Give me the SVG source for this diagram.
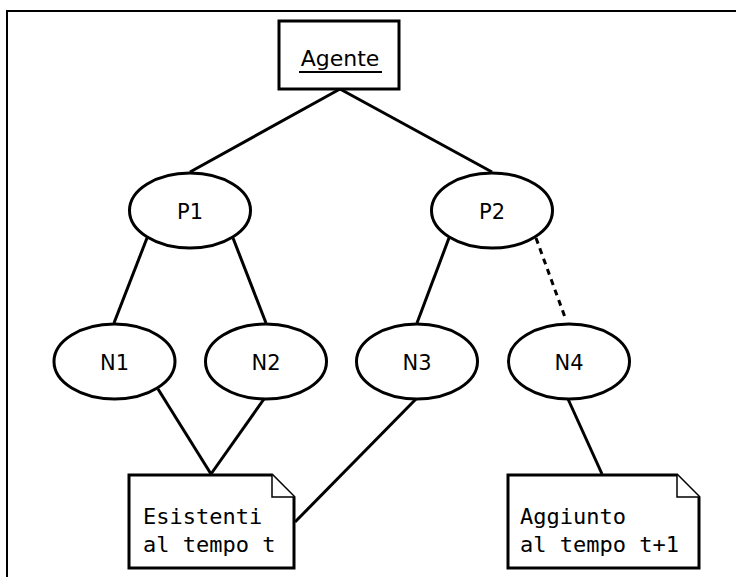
<svg xmlns="http://www.w3.org/2000/svg" width="736" height="577" viewBox="0 0 736 577">
  <style>
    .frame { fill: none; stroke: #000; stroke-width: 2; }
    .edge { fill: none; stroke: #000; stroke-width: 3; }
    .dashed { stroke-dasharray: 6 5; }
    .shape { fill: #fff; stroke: #000; stroke-width: 3; }
    .fold { fill: #fff; stroke: #000; stroke-width: 1.5; }
    .label { font-family: "DejaVu Sans", "Liberation Sans", sans-serif; font-size: 21px; fill: #000; text-anchor: middle; }
    .title { font-size: 22px; }
    .mono { font-family: "DejaVu Sans Mono", "Liberation Mono", monospace; font-size: 22px; fill: #000; }
  </style>
  <rect width="736" height="577" fill="#fff"/>
  <!-- diagram frame, open on the right and bottom -->
  <path class="frame" d="M7,577 V11 H736"/>

  <g id="connectors">
    <line class="edge" x1="340" y1="89" x2="190" y2="172"/>
    <line class="edge" x1="340" y1="89" x2="492" y2="172"/>
    <line class="edge" x1="147" y1="238" x2="114" y2="323"/>
    <line class="edge" x1="233" y1="238" x2="266" y2="323"/>
    <line class="edge" x1="449" y1="238" x2="417" y2="323"/>
    <line class="edge dashed" x1="536" y1="238" x2="566" y2="320"/>
    <line class="edge" x1="158" y1="389" x2="211" y2="474"/>
    <line class="edge" x1="264" y1="399" x2="211" y2="474"/>
    <line class="edge" x1="416" y1="399" x2="295" y2="522"/>
    <line class="edge" x1="568" y1="399" x2="602" y2="474"/>
  </g>

  <g id="agente">
    <rect class="shape" x="279" y="21" width="120" height="68"/>
    <text class="label title" x="340" y="65.5">Agente</text>
    <line x1="299" y1="72" x2="382" y2="72" stroke="#000" stroke-width="1.8"/>
  </g>

  <g id="p1">
    <ellipse class="shape" cx="190" cy="210.5" rx="60.5" ry="37.5"/>
    <text class="label" x="190" y="219">P1</text>
  </g>
  <g id="p2">
    <ellipse class="shape" cx="492" cy="210.5" rx="60.5" ry="37.5"/>
    <text class="label" x="492" y="219">P2</text>
  </g>

  <g id="n1">
    <ellipse class="shape" cx="114.5" cy="361.5" rx="60.5" ry="37.5"/>
    <text class="label" x="114.5" y="370">N1</text>
  </g>
  <g id="n2">
    <ellipse class="shape" cx="266" cy="361.5" rx="60.5" ry="37.5"/>
    <text class="label" x="266" y="370">N2</text>
  </g>
  <g id="n3">
    <ellipse class="shape" cx="417" cy="361.5" rx="60.5" ry="37.5"/>
    <text class="label" x="417" y="370">N3</text>
  </g>
  <g id="n4">
    <ellipse class="shape" cx="569" cy="361.5" rx="60.5" ry="37.5"/>
    <text class="label" x="569" y="370">N4</text>
  </g>

  <g id="note-esistenti">
    <path class="shape" d="M129,475 H272 L294,497 V568 H129 Z"/>
    <path class="fold" d="M272,475 V497 H294"/>
    <text class="mono" x="143" y="524">Esistenti</text>
    <text class="mono" x="143" y="552">al tempo t</text>
  </g>

  <g id="note-aggiunto">
    <path class="shape" d="M508,475 H677 L699,497 V568 H508 Z"/>
    <path class="fold" d="M677,475 V497 H699"/>
    <text class="mono" x="520" y="524">Aggiunto</text>
    <text class="mono" x="520" y="552">al tempo t+1</text>
  </g>
</svg>
